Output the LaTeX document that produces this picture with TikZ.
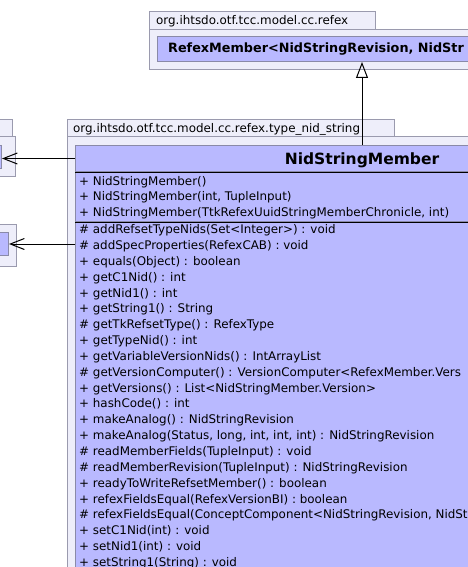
\documentclass[tikz,border=0pt]{standalone}
\usepackage{fontspec}
\setmainfont{DejaVu Sans}
\usetikzlibrary{arrows.meta,positioning}

\definecolor{pkgfill}{HTML}{EEEEFA}
\definecolor{pkgline}{HTML}{9A9AAE}
\definecolor{classfill}{HTML}{B9B9FF}
\definecolor{classline}{HTML}{8A8AA8}

\tikzset{
  pkgbox/.style={draw=pkgline, fill=pkgfill, line width=1pt, rectangle, inner sep=0pt, anchor=north west},
  classbox/.style={draw=classline, fill=classfill, line width=1pt, rectangle, inner sep=0pt, anchor=north west},
  pkgtext/.style={inner sep=0pt, anchor=base west, font=\fontsize{11.9}{14}\selectfont},
  row/.style={inner sep=0pt, anchor=base west, font=\fontsize{11.9}{14}\selectfont},
  classname/.style={inner sep=0pt, font=\bfseries\fontsize{15.5}{18}\selectfont},
  sepline/.style={draw=black, line width=1pt},
  dep/.style={draw=black, line width=1pt, -{Straight Barb[length=14pt, width=11pt]}},
  inherit/.style={draw=black, line width=1pt, -{Triangle[open, length=16pt, width=12pt]}}
}

\begin{document}
\begin{tikzpicture}[x=1pt, y=-1pt]
    \useasboundingbox (0,0) rectangle (468,567);
    \clip (0,0) rectangle (468,567);
    \fill[white] (0,0) rectangle (468,567);

    % Packages
    \node[pkgbox, minimum width=226pt, minimum height=18pt] (refexTab) at (149,11) {};
    \node[pkgbox, minimum width=500pt, minimum height=40pt] (refexPkg) at (149,29) {};
    \node[pkgtext] (refexPkgName) at (156,25) {org.ihtsdo.otf.tcc.model.cc.refex};

    \node[pkgbox, minimum width=327pt, minimum height=17pt] (nidTab) at (67,119) {};
    \node[pkgbox, minimum width=600pt, minimum height=600pt] (nidPkg) at (67,136) {};
    \node[pkgtext] (nidPkgName) at (73,132) {org.ihtsdo.otf.tcc.model.cc.refex.type\_nid\_string};

    \node[pkgbox, anchor=north east, minimum width=30pt, minimum height=17pt] (leftTabA) at (13,119) {};
    \node[pkgbox, anchor=north east, minimum width=40pt, minimum height=40pt] (leftPkgA) at (16,136) {};
    \node[pkgbox, anchor=north east, minimum width=40pt, minimum height=42pt] (leftPkgB) at (17,224) {};

    % Classes
    \node[classbox, minimum width=410pt, minimum height=25pt] (refex) at (157,36) {};
    \node[inner sep=0pt, anchor=base west, font=\bfseries\fontsize{12.8}{15}\selectfont] (refexName) at (168,53) {RefexMember<NidStringRevision, NidStr};

    \node[classbox, anchor=north east, minimum width=20pt, minimum height=23pt] (depA) at (2,145) {};
    \node[classbox, anchor=north east, minimum width=20pt, minimum height=23pt] (depB) at (9,232) {};

    \node[classbox, minimum width=574pt, minimum height=26pt] (memberHead) at (75,145) {};
    \node[classbox, minimum width=574pt, minimum height=49pt, below=0pt of memberHead] (memberCtors) {};
    \node[classbox, minimum width=574pt, minimum height=400pt, below=0pt of memberCtors] (memberOps) {};
    \draw[sepline] (memberCtors.north west) -- (memberCtors.north east);
    \draw[sepline] (memberOps.north west) -- (memberOps.north east);
    \node[classname, anchor=base] (memberName) at (362,164) {NidStringMember};

    % Constructors
    \node[row] (c1) at (79,185) {+ NidStringMember()};
    \node[row] (c2) at (79,200.8) {+ NidStringMember(int, TupleInput)};
    \node[row] (c3) at (79,216.6) {+ NidStringMember(TtkRefexUuidStringMemberChronicle, int)};

    % Operations
    \node[row] (m1) at (79,233.6) {\# addRefsetTypeNids(Set<Integer>) : void};
    \node[row] (m2) at (79,249.45) {\# addSpecProperties(RefexCAB) : void};
    \node[row] (m3) at (79,265.3) {+ equals(Object) : boolean};
    \node[row] (m4) at (79,281.15) {+ getC1Nid() : int};
    \node[row] (m5) at (79,297) {+ getNid1() : int};
    \node[row] (m6) at (79,312.85) {+ getString1() : String};
    \node[row] (m7) at (79,328.7) {\# getTkRefsetType() : RefexType};
    \node[row] (m8) at (79,344.55) {+ getTypeNid() : int};
    \node[row] (m9) at (79,360.4) {+ getVariableVersionNids() : IntArrayList};
    \node[row] (m10) at (79,376.25) {\# getVersionComputer() : VersionComputer<RefexMember.Vers};
    \node[row] (m11) at (79,392.1) {+ getVersions() : List<NidStringMember.Version>};
    \node[row] (m12) at (79,407.95) {+ hashCode() : int};
    \node[row] (m13) at (79,423.8) {+ makeAnalog() : NidStringRevision};
    \node[row] (m14) at (79,439.65) {+ makeAnalog(Status, long, int, int, int) : NidStringRevision};
    \node[row] (m15) at (79,455.5) {\# readMemberFields(TupleInput) : void};
    \node[row] (m16) at (79,471.35) {\# readMemberRevision(TupleInput) : NidStringRevision};
    \node[row] (m17) at (79,487.2) {+ readyToWriteRefsetMember() : boolean};
    \node[row] (m18) at (79,503.05) {+ refexFieldsEqual(RefexVersionBI) : boolean};
    \node[row] (m19) at (79,518.9) {\# refexFieldsEqual(ConceptComponent<NidStringRevision, NidSt};
    \node[row] (m20) at (79,534.75) {+ setC1Nid(int) : void};
    \node[row] (m21) at (79,550.6) {+ setNid1(int) : void};
    \node[row] (m22) at (79,566.45) {+ setString1(String) : void};

    % Relations
    \draw[inherit] (memberHead.north -| memberName) -- (refex.south -| memberName);
    \draw[dep] (memberHead.west) -- (memberHead.west -| depA.east);
    \draw[dep] (depB.east -| memberHead.west) -- (depB.east);
\end{tikzpicture}
\end{document}
